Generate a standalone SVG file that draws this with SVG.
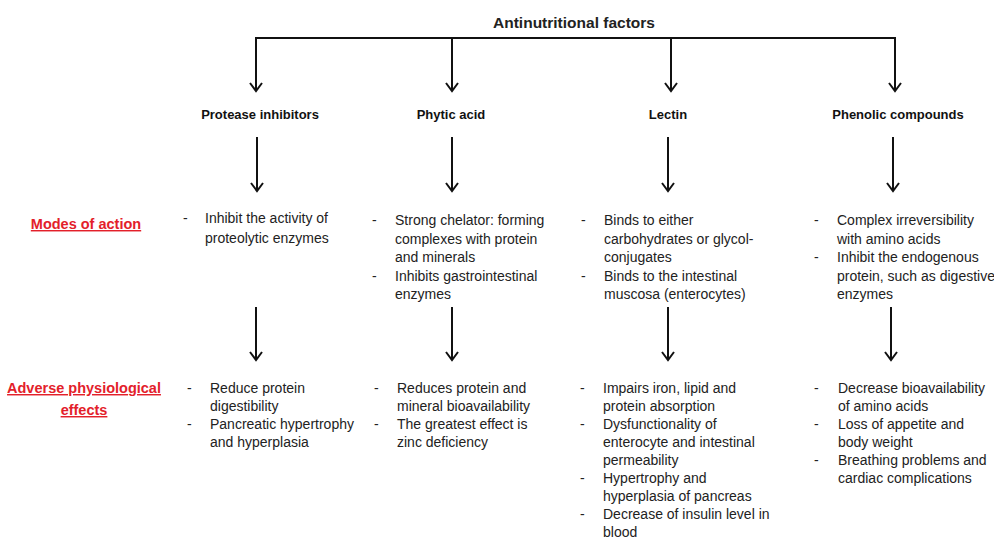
<svg xmlns="http://www.w3.org/2000/svg" width="994" height="541" viewBox="0 0 994 541">
<defs>
<marker id="ah" markerWidth="12" markerHeight="14" refX="10" refY="7" orient="auto" markerUnits="userSpaceOnUse" viewBox="0 0 12 14">
<path d="M2,1 L10,7 L2,13" fill="none" stroke="#111" stroke-width="2"/>
</marker>
<style>
.t{font-family:"Liberation Sans",Arial,sans-serif;fill:#222;font-size:14px}
.h{font-family:"Liberation Sans",Arial,sans-serif;fill:#111;font-size:13px;font-weight:bold}
.title{font-family:"Liberation Sans",Arial,sans-serif;fill:#222;font-size:15.5px;font-weight:bold}
.red{font-family:"Liberation Sans",Arial,sans-serif;fill:#e3202a;font-size:14.5px;font-weight:bold;text-decoration:underline}
.c{fill:none;stroke:#111;stroke-width:2}
.a{fill:none;stroke:#111;stroke-width:2;marker-end:url(#ah)}
</style>
</defs>
<rect width="994" height="541" fill="#fff"/>
<g id="connectors">
<path class="c" d="M255,38 H896"/>
<path class="a" d="M256,38 V91"/>
<path class="a" d="M452,38 V91"/>
<path class="a" d="M671,38 V91"/>
<path class="a" d="M895,38 V91"/>
<path class="a" d="M257,137 V191"/>
<path class="a" d="M452,137 V191"/>
<path class="a" d="M668,137 V191"/>
<path class="a" d="M893,137 V191"/>
<path class="a" d="M256,307 V360"/>
<path class="a" d="M452,307 V360"/>
<path class="a" d="M668,307 V360"/>
<path class="a" d="M891,307 V360"/>
</g>
<g id="title"><text class="title" x="574" y="28" text-anchor="middle">Antinutritional factors</text></g>
<g id="protease"><text class="h" x="260" y="119" text-anchor="middle">Protease inhibitors</text></g>
<g id="phytic"><text class="h" x="451" y="119" text-anchor="middle">Phytic acid</text></g>
<g id="lectin"><text class="h" x="668" y="119" text-anchor="middle">Lectin</text></g>
<g id="phenolic"><text class="h" x="898" y="119" text-anchor="middle">Phenolic compounds</text></g>
<g id="modes-label"><text class="red" x="86" y="229" text-anchor="middle">Modes of action</text></g>
<g id="adverse-label">
<text class="red" x="84" y="393" text-anchor="middle">Adverse physiological</text>
<text class="red" x="84" y="415" text-anchor="middle">effects</text>
</g>
<g id="protease-modes">
<text class="t" x="183" y="223">-</text>
<text class="t" x="205" y="223">Inhibit the activity of</text>
<text class="t" x="205" y="243">proteolytic enzymes</text>
</g>
<g id="phytic-modes">
<text class="t" x="372" y="225">-</text>
<text class="t" x="395" y="225">Strong chelator: forming</text>
<text class="t" x="395" y="243.5">complexes with protein</text>
<text class="t" x="395" y="262">and minerals</text>
<text class="t" x="372" y="280.5">-</text>
<text class="t" x="395" y="280.5">Inhibits gastrointestinal</text>
<text class="t" x="395" y="299">enzymes</text>
</g>
<g id="lectin-modes">
<text class="t" x="581" y="225">-</text>
<text class="t" x="604" y="225">Binds to either</text>
<text class="t" x="604" y="243.5">carbohydrates or glycol-</text>
<text class="t" x="604" y="262">conjugates</text>
<text class="t" x="581" y="280.5">-</text>
<text class="t" x="604" y="280.5">Binds to the intestinal</text>
<text class="t" x="604" y="299">muscosa (enterocytes)</text>
</g>
<g id="phenolic-modes">
<text class="t" x="814" y="225">-</text>
<text class="t" x="837" y="225">Complex irreversibility</text>
<text class="t" x="837" y="243.5">with amino acids</text>
<text class="t" x="814" y="262">-</text>
<text class="t" x="837" y="262">Inhibit the endogenous</text>
<text class="t" x="837" y="280.5">protein, such as digestive</text>
<text class="t" x="837" y="299">enzymes</text>
</g>
<g id="protease-effects">
<text class="t" x="187" y="393">-</text>
<text class="t" x="210" y="393">Reduce protein</text>
<text class="t" x="210" y="411">digestibility</text>
<text class="t" x="187" y="429">-</text>
<text class="t" x="210" y="429">Pancreatic hypertrophy</text>
<text class="t" x="210" y="447">and hyperplasia</text>
</g>
<g id="phytic-effects">
<text class="t" x="374" y="393">-</text>
<text class="t" x="397" y="393">Reduces protein and</text>
<text class="t" x="397" y="411">mineral bioavailability</text>
<text class="t" x="374" y="429">-</text>
<text class="t" x="397" y="429">The greatest effect is</text>
<text class="t" x="397" y="447">zinc deficiency</text>
</g>
<g id="lectin-effects">
<text class="t" x="580" y="393">-</text>
<text class="t" x="603" y="393">Impairs iron, lipid and</text>
<text class="t" x="603" y="411">protein absorption</text>
<text class="t" x="580" y="429">-</text>
<text class="t" x="603" y="429">Dysfunctionality of</text>
<text class="t" x="603" y="447">enterocyte and intestinal</text>
<text class="t" x="603" y="465">permeability</text>
<text class="t" x="580" y="483">-</text>
<text class="t" x="603" y="483">Hypertrophy and</text>
<text class="t" x="603" y="501">hyperplasia of pancreas</text>
<text class="t" x="580" y="519">-</text>
<text class="t" x="603" y="519">Decrease of insulin level in</text>
<text class="t" x="603" y="537">blood</text>
</g>
<g id="phenolic-effects">
<text class="t" x="814" y="393">-</text>
<text class="t" x="838" y="393">Decrease bioavailability</text>
<text class="t" x="838" y="411">of amino acids</text>
<text class="t" x="814" y="429">-</text>
<text class="t" x="838" y="429">Loss of appetite and</text>
<text class="t" x="838" y="447">body weight</text>
<text class="t" x="814" y="465">-</text>
<text class="t" x="838" y="465">Breathing problems and</text>
<text class="t" x="838" y="483">cardiac complications</text>
</g>
</svg>
